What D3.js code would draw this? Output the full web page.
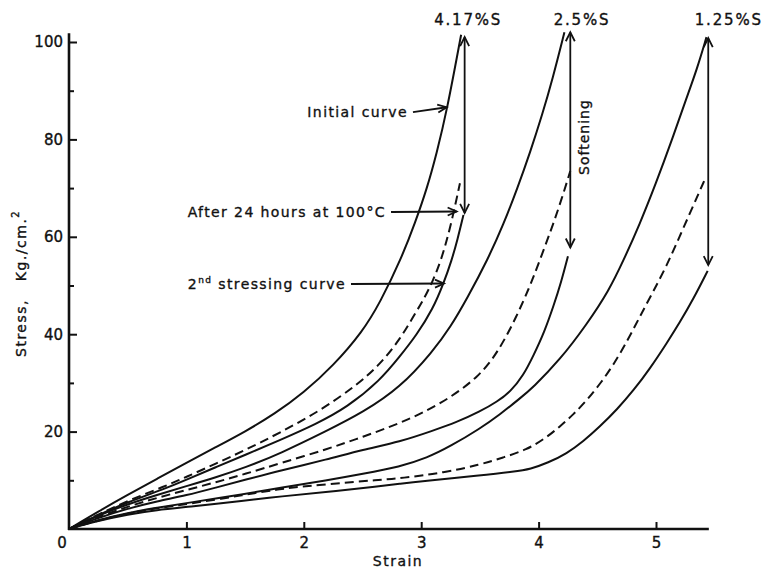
<!DOCTYPE html>
<html>
<head>
<meta charset="utf-8">
<script src="https://cdn.jsdelivr.net/npm/d3@7"></script>
<style>
  html, body { margin: 0; padding: 0; background: #fff; }
  svg { display: block; }
  text { font-family: "DejaVu Sans", "Liberation Sans", sans-serif; fill: #111; stroke: #111; stroke-width: 0.35px; }
</style>
</head>
<body>
<svg id="chart" width="766" height="570"></svg>
<script>
// ---------- data (strain, stress in Kg/cm^2) ----------
const g417Initial = [[0,0],[0.25,3.6],[0.5,7],[0.75,10.3],[1,13.6],[1.25,16.8],[1.5,20],[1.75,23.6],[2,28],[2.25,33.5],[2.5,40.5],[2.65,46.5],[2.83,55.5],[2.95,63],[3.05,70],[3.13,77],[3.22,86],[3.34,101.5]];
const g417After   = [[0,0],[0.25,3],[0.5,5.8],[0.82,8.8],[1,10.7],[1.25,13.4],[1.5,16.2],[1.8,19.8],[2.14,24.3],[2.45,29.5],[2.65,33.8],[2.82,39],[2.93,43.5],[3.03,47.5],[3.1,51],[3.17,55.2],[3.25,62],[3.33,71]];
const g417Second  = [[0,0],[0.25,2.9],[0.5,5.5],[0.82,8.3],[1,10.1],[1.25,12.7],[1.5,15.2],[1.8,18.3],[2.1,21.5],[2.37,25],[2.65,30.5],[2.82,35.5],[2.96,39.8],[3.1,45.2],[3.19,50.4],[3.26,55.2],[3.31,59.5],[3.36,64.5]];

const g25Initial  = [[0,0],[0.25,2.8],[0.5,5.1],[0.75,7],[1,8.8],[1.25,10.6],[1.5,12.6],[1.8,15.5],[2.2,20.2],[2.5,23.9],[2.82,29],[3.1,36.5],[3.25,41.5],[3.39,47.3],[3.57,55.5],[3.7,62.5],[3.82,70],[3.93,77.5],[4.03,85],[4.12,92.5],[4.22,102]];
const g25After    = [[0,0],[0.25,2.5],[0.5,4.6],[0.75,6.4],[1,8],[1.25,9.6],[1.5,11.3],[1.8,13.5],[2.2,16.4],[2.5,18.9],[2.82,21.7],[3.16,25.5],[3.5,31.3],[3.67,37],[3.81,43.5],[3.92,49.5],[4.0,54.5],[4.1,61],[4.18,66.5],[4.27,73.5]];
const g25Second   = [[0,0],[0.25,2.3],[0.5,4.2],[0.75,5.7],[1,6.9],[1.25,8.5],[1.5,10.1],[1.8,12],[2.2,14.3],[2.5,16.3],[2.82,17.9],[3.1,20.2],[3.3,21.9],[3.5,24.1],[3.65,26.2],[3.76,28.2],[3.87,31.5],[3.96,35.8],[4.05,40.5],[4.13,46],[4.19,50.5],[4.25,56]];

const g125Initial = [[0,0],[0.25,1.9],[0.5,3.3],[0.75,4.4],[1,5.3],[1.5,7.2],[1.8,8.5],[2.2,10],[2.5,11.3],[2.82,12.8],[3.05,14.6],[3.25,17],[3.5,20.6],[3.67,23.5],[3.84,26.8],[3.95,29],[4.18,34.7],[4.41,42],[4.6,49],[4.72,55],[4.86,62.5],[5.0,71],[5.13,79.5],[5.26,88.5],[5.35,94.5],[5.43,101]];
const g125After   = [[0,0],[0.25,1.8],[0.5,3.2],[0.75,4.3],[1,5.1],[1.5,7],[1.83,8.4],[2.2,9.2],[2.65,10.1],[2.82,10.4],[3.2,11.6],[3.5,13.2],[3.7,14.7],[3.9,16.3],[4.05,18.5],[4.18,21],[4.3,23.6],[4.41,26.4],[4.53,30],[4.64,33.8],[4.76,38.8],[4.86,43.5],[4.97,48.5],[5.09,54],[5.2,60],[5.31,66],[5.42,72]];
const g125Second  = [[0,0],[0.25,1.7],[0.5,3],[0.75,3.9],[1,4.5],[1.5,5.8],[1.8,6.7],[2.2,7.6],[2.65,8.8],[2.82,9.3],[3.0,9.8],[3.5,11],[3.8,11.8],[3.93,12.3],[4.08,13.6],[4.24,15.5],[4.38,18],[4.52,21],[4.67,24.6],[4.81,28.5],[4.95,33],[5.09,38.1],[5.2,42.3],[5.32,47.3],[5.44,53]];

const groupLabels     = ["4.17%S", "2.5%S", "1.25%S"];
const groupLabelX     = [3.4, 4.37, 5.62];           // strain at label centre
const softenStrain    = [3.37, 4.27, 5.445];         // strain of softening arrows
const softenTop       = [101, 102, 100.8];           // stress at arrow top
const softenBottom    = [64.9, 57.8, 54.2];          // stress at arrow bottom

const xTickValues   = [1, 2, 3, 4, 5];
const yTickValues   = [20, 40, 60, 80, 100];
const yMinorValues  = [10, 30, 50, 70, 90];

const calloutTexts  = ["Initial curve", "After 24 hours at 100°C", "2nd stressing curve"];
const calloutFrom   = [[2.93, 85.6], [2.743, 65.1], [2.402, 50.3]];
const calloutTo     = [[3.217, 86.6], [3.302, 65.2], [3.194, 50.4]];

// ---------- drawing ----------
const svg = d3.select("#chart");
const x = d3.scaleLinear().domain([0, 5]).range([69, 656]);
const y = d3.scaleLinear().domain([0, 100]).range([529, 42]);

const ink = "#111";

// axes lines
svg.append("line").attr("x1", x(0)).attr("x2", x(0)).attr("y1", y(0) + 1).attr("y2", y(101.8))
  .attr("stroke", ink).attr("stroke-width", 2.6);
svg.append("line").attr("x1", x(0) - 1).attr("x2", x(5.45)).attr("y1", y(0)).attr("y2", y(0))
  .attr("stroke", ink).attr("stroke-width", 2.6);

// y axis (ticks inward)
const yAxis = svg.append("g").attr("transform", `translate(${x(0)},0)`)
  .call(d3.axisLeft(y).tickValues(yTickValues).tickSize(-8).tickPadding(6).tickFormat(d3.format("d")));
yAxis.select(".domain").remove();
yAxis.selectAll("line").attr("stroke", ink).attr("stroke-width", 2);
yAxis.selectAll("text").attr("font-size", 15).attr("fill", ink)
  .style("font-family", "'DejaVu Sans', sans-serif");

const yMinor = svg.append("g").attr("transform", `translate(${x(0)},0)`)
  .call(d3.axisLeft(y).tickValues(yMinorValues).tickSize(-5).tickFormat(""));
yMinor.select(".domain").remove();
yMinor.selectAll("line").attr("stroke", ink).attr("stroke-width", 2);

// x axis (ticks inward)
const xAxis = svg.append("g").attr("transform", `translate(0,${y(0)})`)
  .call(d3.axisBottom(x).tickValues(xTickValues).tickSize(-7).tickPadding(8).tickFormat(d3.format("d")));
xAxis.select(".domain").remove();
xAxis.selectAll("line").attr("stroke", ink).attr("stroke-width", 2);
xAxis.selectAll("text").attr("font-size", 15).attr("fill", ink)
  .style("font-family", "'DejaVu Sans', sans-serif");

// origin label
svg.append("text").attr("x", x(0) - 7).attr("y", y(0) + 8).attr("dy", "0.71em")
  .attr("text-anchor", "middle").attr("font-size", 15).text("0");

// axis titles
svg.append("text").attr("x", 398).attr("y", 566).attr("text-anchor", "middle")
  .attr("font-size", 14).attr("letter-spacing", 1.5).text("Strain");

const yt = svg.append("text").attr("transform", "translate(26,357) rotate(-90)")
  .attr("font-size", 14).attr("letter-spacing", 1.5).style("white-space", "pre");
yt.append("tspan").text("Stress,   Kg./cm.");
yt.append("tspan").attr("font-size", 10).attr("dy", -7).text("2");

// curves
const line = d3.line().x(d => x(d[0])).y(d => y(d[1])).curve(d3.curveBasis);
const solidSeries = [g417Initial, g417Second, g25Initial, g25Second, g125Initial, g125Second];
const dashedSeries = [g417After, g25After, g125After];

svg.selectAll("path.solid").data(solidSeries).enter().append("path")
  .attr("class", "solid").attr("d", line).attr("fill", "none")
  .attr("stroke", ink).attr("stroke-width", 2).attr("stroke-linejoin", "round");
svg.selectAll("path.dashed").data(dashedSeries).enter().append("path")
  .attr("class", "dashed").attr("d", line).attr("fill", "none")
  .attr("stroke", ink).attr("stroke-width", 2).attr("stroke-dasharray", "9,5");

// softening double arrows
softenStrain.forEach((s, i) => {
  const xx = x(s), yTop = y(softenTop[i]), yBot = y(softenBottom[i]);
  svg.append("line").attr("x1", xx).attr("x2", xx).attr("y1", yTop).attr("y2", yBot)
    .attr("stroke", ink).attr("stroke-width", 1.8);
  svg.append("path").attr("d", `M${xx - 4.5},${yTop + 9} L${xx},${yTop} L${xx + 4.5},${yTop + 9}`)
    .attr("fill", "none").attr("stroke", ink).attr("stroke-width", 1.8);
  svg.append("path").attr("d", `M${xx - 4.5},${yBot - 9} L${xx},${yBot} L${xx + 4.5},${yBot - 9}`)
    .attr("fill", "none").attr("stroke", ink).attr("stroke-width", 1.8);
});

// group labels
groupLabels.forEach((t, i) => {
  svg.append("text").attr("x", x(groupLabelX[i])).attr("y", 25).attr("text-anchor", "middle")
    .attr("font-size", 15).attr("letter-spacing", 1.8).text(t);
});

// softening label
svg.append("text").attr("transform", `translate(${x(4.27) + 14},${137}) rotate(-90)`)
  .attr("text-anchor", "middle").attr("dy", "0.35em")
  .attr("font-size", 14).attr("letter-spacing", 1).text("Softening");

// callouts
calloutTexts.forEach((t, i) => {
  const [fx, fy] = calloutFrom[i], [tx, ty] = calloutTo[i];
  const x1 = x(fx), y1 = y(fy), x2 = x(tx), y2 = y(ty);
  const tEl = svg.append("text").attr("x", x1 - 5).attr("y", y1).attr("dy", "0.36em")
    .attr("text-anchor", "end").attr("font-size", 14).attr("letter-spacing", 1.4);
  if (i === 2) {
    tEl.append("tspan").text("2");
    tEl.append("tspan").attr("font-size", 9).attr("dy", -6).text("nd");
    tEl.append("tspan").attr("dy", 6).text(" stressing curve");
  } else {
    tEl.text(t);
  }
  svg.append("line").attr("x1", x1).attr("y1", y1).attr("x2", x2).attr("y2", y2)
    .attr("stroke", ink).attr("stroke-width", 2);
  const ang = Math.atan2(y2 - y1, x2 - x1);
  const L = 9, W = 4;
  const bx = x2 - L * Math.cos(ang), by = y2 - L * Math.sin(ang);
  const px = -Math.sin(ang) * W, py = Math.cos(ang) * W;
  svg.append("path").attr("d", `M${bx + px},${by + py} L${x2},${y2} L${bx - px},${by - py}`)
    .attr("fill", "none").attr("stroke", ink).attr("stroke-width", 1.8);
});
</script>
</body>
</html>
